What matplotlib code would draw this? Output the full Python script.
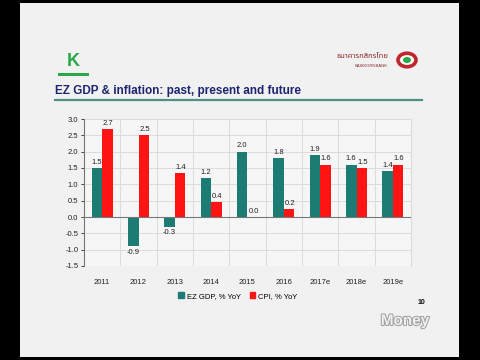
import matplotlib
matplotlib.use("Agg")
import matplotlib.pyplot as plt
from matplotlib.patches import Rectangle, Circle, Patch
import matplotlib.patheffects as pe

# datos del grafico
years = ["2011", "2012", "2013", "2014", "2015", "2016", "2017e", "2018e", "2019e"]
gdp = [1.5, -0.9, -0.3, 1.2, 2.0, 1.8, 1.9, 1.6, 1.4]
cpi = [2.7, 2.5, 1.35, 0.45, 0.0, 0.25, 1.6, 1.5, 1.6]
gdp_labels = ["1.5", "-0.9", "-0.3", "1.2", "2.0", "1.8", "1.9", "1.6", "1.4"]
cpi_labels = ["2.7", "2.5", "1.4", "0.4", "0.0", "0.2", "1.6", "1.5", "1.6"]
yticks = [3.0, 2.5, 2.0, 1.5, 1.0, 0.5, 0.0, -0.5, -1.0, -1.5]

teal = "#1c7c74"
red = "#ff1414"

plt.rcParams["font.family"] = ["Liberation Sans", "DejaVu Sans"]

fig = plt.figure(figsize=(4.8, 3.6), dpi=100, facecolor="black")

# fondo de la diapositiva
fig.patches.append(Rectangle((20 / 480, 3 / 360), 439 / 480, 354 / 360,
                             transform=fig.transFigure, facecolor="#f1f1f1",
                             edgecolor="none", zorder=-5))

# titulo y linea
fig.text(55 / 480, 1 - 91 / 360, "EZ GDP & inflation: past, present and future",
         fontsize=8.5, fontweight="bold", color="#1d2470", va="center", ha="left")
fig.add_artist(plt.Line2D([55 / 480, 422 / 480], [1 - 100 / 360, 1 - 100 / 360],
                          transform=fig.transFigure, color="#4f8f84", lw=1.6))

# logo K
fig.text(73 / 480, 1 - 62 / 360, "K", fontsize=13, fontweight="bold", color="#2aa84a",
         ha="center", va="center")
fig.patches.append(Rectangle((58 / 480, 1 - 76 / 360), 31 / 480, 3 / 360,
                             transform=fig.transFigure, facecolor="#2aa84a",
                             edgecolor="none"))

# logo banco
fig.text(388 / 480, 1 - 57 / 360, "ธนาคารกสิกรไทย", fontsize=5.5, color="#8a2a2a",
         ha="right", va="center", family=["Noto Sans Thai", "Noto Sans", "DejaVu Sans"])
fig.text(388 / 480, 1 - 66 / 360, "KASIKORNBANK", fontsize=3, color="#8a2a2a",
         ha="right", va="center")
fig.add_artist(Circle((407 / 480, 1 - 60 / 360), 9 / 480, transform=fig.transFigure,
                      facecolor="#f8f8f8", edgecolor="#c0272d", lw=2.6))
fig.add_artist(Circle((407 / 480, 1 - 60 / 360), 4 / 480, transform=fig.transFigure,
                      facecolor="#2aa84a", edgecolor="none"))

ax = fig.add_axes([84 / 480, 1 - 266 / 360, 327 / 480, 147 / 360])
ax.set_facecolor("#f6f6f6")

x = list(range(len(years)))
w = 0.29
ax.bar([i - w / 2 for i in x], gdp, width=w, color=teal, zorder=3)
ax.bar([i + w / 2 for i in x], cpi, width=w, color=red, zorder=3)

for i in x:
    g = gdp[i]
    if g >= 0:
        ax.text(i - w / 2, g + 0.07, gdp_labels[i], ha="center", va="bottom",
                fontsize=5.5, color="#222222", zorder=4)
    else:
        ax.text(i - w / 2, g - 0.08, gdp_labels[i], ha="center", va="top",
                fontsize=5.5, color="#222222", zorder=4)
    ax.text(i + w / 2 + 0.02, cpi[i] + 0.07, cpi_labels[i], ha="center", va="bottom",
            fontsize=5.5, color="#222222", zorder=4)

ax.set_xlim(-0.5, len(years) - 0.5)
ax.set_ylim(-1.5, 3.0)
ax.set_yticks(yticks)
ax.set_yticklabels(["%.1f" % v for v in yticks])
ax.set_xticks(x)
ax.set_xticklabels(years)

# rejilla
for b in [i + 0.5 for i in x]:
    ax.axvline(b, color="#dcdcdc", lw=0.7, zorder=1)
ax.yaxis.grid(True, color="#dcdcdc", lw=0.7, zorder=1)
ax.axhline(0, color="#777777", lw=0.8, zorder=3)

ax.tick_params(axis="x", length=0, labelsize=5.5, colors="#222222", pad=9)
ax.tick_params(axis="y", length=2, width=0.6, labelsize=5.5, colors="#222222", pad=2)
for s in ["top", "bottom"]:
    ax.spines[s].set_visible(False)
ax.spines["right"].set_color("#dcdcdc")
ax.spines["left"].set_color("#777777")
ax.spines["left"].set_linewidth(0.8)

handles = [Patch(color=teal, label="EZ GDP, % YoY"), Patch(color=red, label="CPI, % YoY")]
fig.legend(handles=handles, loc="center", bbox_to_anchor=(238 / 480, 1 - 296 / 360),
           ncol=2, frameon=False, fontsize=5.5, handlelength=0.7, handleheight=0.7,
           handletextpad=0.4, columnspacing=1.2)

fig.text(421 / 480, 1 - 303 / 360, "10", fontsize=5, fontweight="bold", color="#111111",
         ha="center", va="center")

# marca de agua del canal
fig.text(405 / 480, 1 - 321 / 360, "Money", fontsize=11, fontweight="bold", color="#f8f8f8",
         ha="center", va="center", alpha=0.9,
         path_effects=[pe.withStroke(linewidth=1.5, foreground="#9a9a9a")])

fig.savefig("out.png", dpi=100, facecolor=fig.get_facecolor())
